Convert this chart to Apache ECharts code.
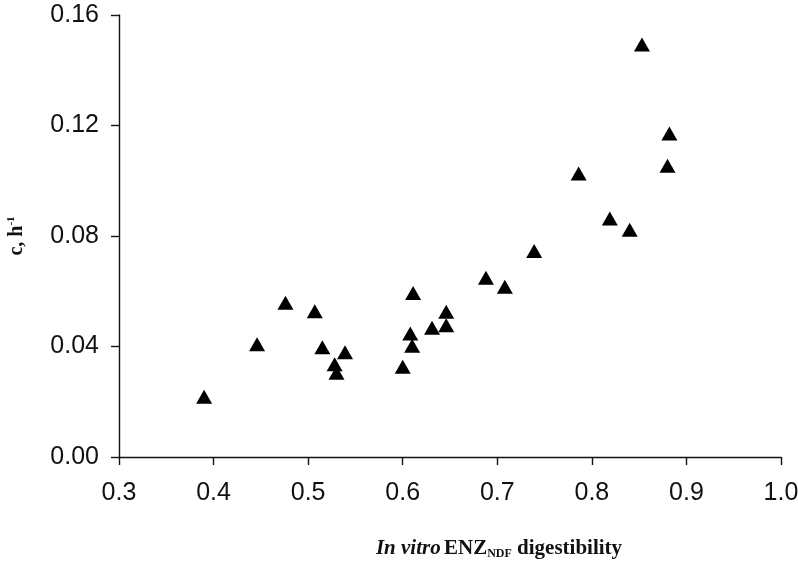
<!DOCTYPE html>
<html>
<head>
<meta charset="utf-8">
<script src="https://cdn.jsdelivr.net/npm/echarts@6/dist/echarts.min.js"></script>
<style>
  html, body { margin: 0; padding: 0; background: #fff; }
  #chart { width: 798px; height: 568px; }
</style>
</head>
<body>
<div id="chart"></div>
<script>
// in vitro ENZ_NDF digestibility
const digestibility = [0.390, 0.446, 0.476, 0.507, 0.515, 0.528, 0.530, 0.539,
    0.600, 0.611, 0.608, 0.610, 0.631, 0.646, 0.646, 0.688, 0.708, 0.739,
    0.786, 0.819, 0.840, 0.853, 0.882, 0.880];
// c, h-1
const rate = [0.0218, 0.0408, 0.0558, 0.0528, 0.0397, 0.0336, 0.0305, 0.0379,
    0.0327, 0.0594, 0.0447, 0.0403, 0.0468, 0.0526, 0.0477, 0.0649, 0.0616, 0.0746,
    0.1026, 0.0863, 0.0823, 0.1493, 0.1171, 0.1054];
const xTicks = [0.3, 1.0, 0.1];
const yTicks = [0, 0.16, 0.04];

let points = digestibility.map((d, i) => [d, rate[i]]);

let chart = echarts.init(document.getElementById('chart'));
chart.setOption({
    animation: false,
    backgroundColor: '#fff',
    grid: { left: 119, right: 17, top: 15, bottom: 111, containLabel: false, outerBoundsMode: 'none' },
    xAxis: {
        type: 'value',
        min: xTicks[0], max: xTicks[1], interval: xTicks[2],
        name: '{i|In vitro} {b|ENZ}{sub|NDF}{b| digestibility}',
        nameLocation: 'middle',
        nameGap: 81,
        nameTextStyle: {
            padding: [0, 0, 0, 98],
            rich: {
                i: { fontFamily: 'Liberation Serif', fontStyle: 'italic', fontWeight: 'bold', fontSize: 21, color: '#111' },
                b: { fontFamily: 'Liberation Serif', fontWeight: 'bold', fontSize: 21, color: '#111' },
                sub: { fontFamily: 'Liberation Serif', fontWeight: 'bold', fontSize: 12, color: '#111', padding: [10, 0, 0, 0] }
            }
        },
        axisLine: { lineStyle: { color: '#111', width: 1.4 } },
        axisTick: { inside: false, length: 8, lineStyle: { color: '#111', width: 1.4 } },
        axisLabel: {
            margin: 24, fontFamily: 'Liberation Sans', fontSize: 25, color: '#111',
            formatter: v => v.toFixed(1)
        },
        splitLine: { show: false }
    },
    yAxis: {
        type: 'value',
        min: yTicks[0], max: yTicks[1], interval: yTicks[2],
        name: '{b|c, h}{sup|-1}',
        nameLocation: 'middle',
        nameRotate: 90,
        nameGap: 62,
        nameTextStyle: {
            padding: [0, 0, 30, 0],
            rich: {
                b: { fontFamily: 'Liberation Serif', fontWeight: 'bold', fontSize: 20, color: '#111' },
                sup: { fontFamily: 'Liberation Serif', fontWeight: 'bold', fontSize: 11, color: '#111', padding: [0, 0, 10, 0] }
            }
        },
        axisLine: { show: true, lineStyle: { color: '#111', width: 1.4 } },
        axisTick: { show: true, inside: false, length: 8, lineStyle: { color: '#111', width: 1.4 } },
        axisLabel: {
            margin: 20, fontFamily: 'Liberation Sans', fontSize: 25, color: '#111',
            formatter: v => v.toFixed(2)
        },
        splitLine: { show: false }
    },
    series: [{
        type: 'scatter',
        data: points,
        symbol: 'triangle',
        symbolSize: [16, 14],
        itemStyle: { color: '#000', opacity: 1 }
    }]
});
</script>
</body>
</html>
